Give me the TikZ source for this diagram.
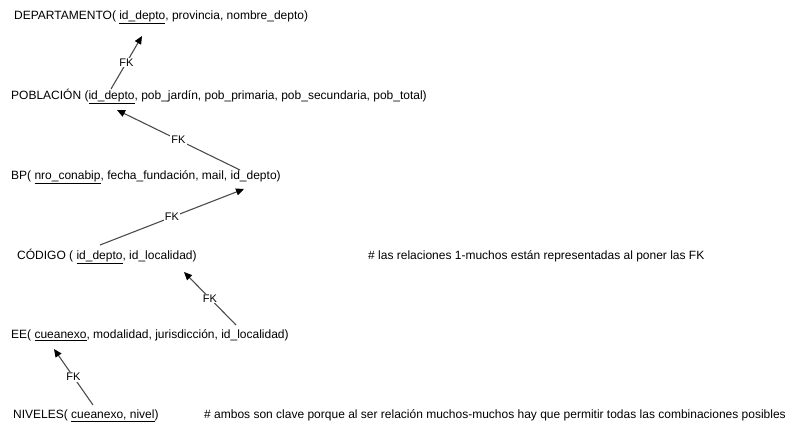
\documentclass[tikz,border=0pt]{standalone}
\usepackage{fontspec}
\setmainfont{Liberation Sans}
\usetikzlibrary{arrows.meta}

\begin{document}
\begin{tikzpicture}[
    x=1pt, y=-1pt,
    rel/.style={anchor=base west, inner sep=0pt, font=\fontsize{12}{14}\selectfont},
    fk/.style={-{Triangle[length=8pt, width=7pt, color=black]}, line width=1.1pt, draw=black!70},
    fklabel/.style={fill=white, inner sep=1pt, font=\fontsize{11}{13}\selectfont}
  ]
    \useasboundingbox (0,0) rectangle (800,430);

    % relaciones
    \node[rel] (depto) at (14,19.5) {DEPARTAMENTO( \underline{id\_depto}, provincia, nombre\_depto)};
    \node[rel] (poblacion) at (11,99.5) {POBLACIÓN (\underline{id\_depto}, pob\_jardín, pob\_primaria, pob\_secundaria, pob\_total)};
    \node[rel] (bp) at (11,179.5) {BP( \underline{nro\_conabip}, fecha\_fundación, mail, id\_depto)};
    \node[rel] (codigo) at (17,259.5) {CÓDIGO ( \underline{id\_depto}, id\_localidad)};
    \node[rel] (ee) at (11,338.5) {EE( \underline{cueanexo}, modalidad, jurisdicción, id\_localidad)};
    \node[rel] (niveles) at (13,418.5) {NIVELES( \underline{cueanexo, nivel})};

    % notas
    \node[rel] (nota1) at (368,259.5) {\# las relaciones 1-muchos están representadas al poner las FK};
    \node[rel] (nota2) at (204,418.5) {\# ambos son clave porque al ser relación muchos-muchos hay que permitir todas las combinaciones posibles};

    % extremos de las FK
    \coordinate (depto-pk) at (142,36);
    \coordinate (pob-fk) at (111,89);
    \coordinate (pob-pk) at (117,110);
    \coordinate (bp-fk) at (240,170);
    \coordinate (bp-pk) at (244,189);
    \coordinate (cod-fk) at (100,245);
    \coordinate (cod-pk) at (184,272);
    \coordinate (ee-fk) at (236,325);
    \coordinate (ee-pk) at (54,349);
    \coordinate (niv-fk) at (93,405);

    % FK
    \draw[fk] (pob-fk) -- node[fklabel] {FK} (depto-pk);
    \draw[fk] (bp-fk) -- node[fklabel] {FK} (pob-pk);
    \draw[fk] (cod-fk) -- node[fklabel] {FK} (bp-pk);
    \draw[fk] (ee-fk) -- node[fklabel] {FK} (cod-pk);
    \draw[fk] (niv-fk) -- node[fklabel] {FK} (ee-pk);

\end{tikzpicture}
\end{document}
